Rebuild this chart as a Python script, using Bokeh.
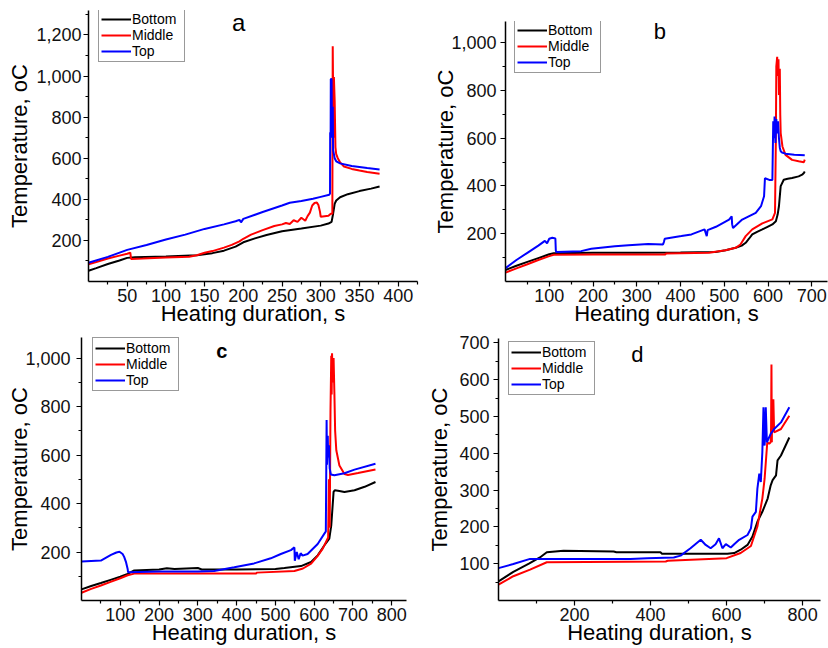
from bokeh.plotting import figure
from bokeh.layouts import column, row
from bokeh.models import Range1d, FixedTicker, NumeralTickFormatter, Legend, LegendItem, Label
from bokeh.embed import file_html
from bokeh.resources import INLINE

FONT = "Liberation Sans"
series_names = ["Bottom", "Middle", "Top"]
series_colors = ["#000000", "#ff0000", "#0000ff"]
x_label = "Heating duration, s"
y_label = "Temperature, oC"

# ---------------- panel a ----------------
a_bottom_x = [0, 10, 25, 40, 50, 60, 100, 140, 160, 175, 190, 200, 215, 230, 250, 275, 300, 310, 314, 316, 318, 320, 325, 335, 350, 365, 376]
a_bottom_y = [52, 65, 85, 102, 115, 118, 122, 128, 138, 150, 170, 191, 210, 226, 245, 258, 272, 282, 290, 330, 378, 394, 410, 425, 440, 452, 462]
a_middle_x = [0, 10, 25, 40, 50, 54, 55, 70, 100, 130, 140, 150, 160, 175, 185, 195, 200, 210, 225, 240, 250, 255, 260, 265, 270, 275, 280, 283, 286, 289, 292, 295, 297, 299, 300, 305, 310, 313, 315, 315.5, 316.5, 317, 318, 319, 320, 322, 325, 330, 340, 350, 360, 376]
a_middle_y = [84, 95, 112, 126, 135, 140, 110, 112, 117, 120, 128, 140, 148, 165, 178, 195, 208, 228, 250, 270, 278, 285, 280, 298, 290, 310, 296, 318, 335, 370, 382, 384, 372, 340, 315, 318, 320, 330, 330, 1145, 700, 995, 880, 653, 620, 600, 580, 560, 548, 540, 533, 525]
a_top_x = [0, 25, 50, 75, 100, 125, 150, 175, 190, 195, 197, 200, 225, 250, 260, 275, 290, 300, 311, 312, 312.2, 312.8, 313, 314, 314.5, 315.5, 316, 318, 320, 325, 340, 360, 376]
a_top_y = [91, 120, 154, 178, 204, 228, 256, 278, 293, 300, 288, 305, 338, 370, 383, 392, 403, 412, 422, 428, 725, 725, 985, 985, 700, 850, 640, 600, 585, 575, 562, 552, 545]

# ---------------- panel b ----------------
b_bottom_x = [0, 25, 50, 75, 100, 110, 200, 300, 400, 480, 503, 526, 540, 549, 557, 564, 575, 587, 600, 610, 618, 622, 625, 629, 636, 645, 655, 670, 678, 682, 684]
b_bottom_y = [48, 66, 82, 98, 114, 118, 120, 120, 121, 123, 131, 141, 150, 162, 180, 197, 208, 218, 230, 239, 252, 280, 315, 399, 426, 430, 433, 440, 447, 454, 460]
b_middle_x = [0, 25, 50, 75, 100, 110, 200, 300, 365, 367, 465, 503, 526, 537, 549, 564, 587, 610, 616, 618, 619, 621, 622, 624, 625, 627, 628, 629, 633, 640, 655, 670, 682, 684]
b_middle_y = [37, 55, 72, 90, 106, 112, 113, 113, 113, 117, 120, 131, 141, 155, 190, 218, 243, 260, 287, 600, 900, 940, 860, 930, 780, 890, 700, 621, 565, 530, 509, 503, 499, 510]
b_top_x = [0, 25, 50, 75, 90, 95, 100, 107, 114, 115, 116, 173, 196, 250, 281, 326, 360, 362, 364, 402, 425, 455, 460, 462, 481, 511, 517, 518, 520, 541, 572, 584, 591, 593, 603, 610, 612, 614, 615, 617, 619, 621, 623, 625, 627, 629, 632, 640, 660, 684]
b_top_y = [56, 90, 120, 150, 170, 160, 179, 183, 180, 130, 123, 127, 137, 148, 152, 157, 155, 165, 179, 190, 197, 218, 190, 215, 229, 259, 273, 240, 224, 259, 287, 315, 357, 432, 425, 425, 670, 600, 690, 580, 680, 620, 670, 600, 560, 545, 540, 535, 530, 528]

# ---------------- panel c ----------------
c_bottom_x = [0, 25, 50, 75, 100, 119, 136, 200, 220, 240, 300, 310, 400, 500, 523, 566, 592, 609, 626, 639, 644, 650, 653, 665, 678, 704, 730, 758]
c_bottom_y = [46, 60, 72, 85, 98, 110, 124, 128, 133, 130, 134, 128, 128, 130, 134, 142, 159, 186, 227, 255, 310, 448, 455, 452, 448, 455, 469, 489]
c_middle_x = [0, 25, 50, 75, 100, 119, 136, 300, 450, 452, 549, 571, 592, 609, 622, 636, 638, 640, 642, 644, 645, 646, 648, 650, 652, 654, 657, 665, 678, 687, 713, 758]
c_middle_y = [32, 48, 62, 77, 92, 104, 111, 111, 111, 115, 122, 132, 152, 184, 214, 260, 500, 300, 780, 1010, 850, 1020, 900, 1000, 860, 700, 620, 557, 522, 518, 526, 540]
c_top_x = [0, 25, 50, 76, 90, 98, 106, 110, 115, 119, 120, 200, 300, 342, 394, 445, 488, 514, 540, 549, 550, 555, 560, 565, 570, 583, 609, 630, 632, 633, 635, 636, 638, 640, 643, 652, 678, 704, 758]
c_top_y = [161, 163, 165, 188, 198, 201, 192, 180, 157, 130, 117, 120, 120, 122, 137, 153, 174, 192, 208, 219, 164, 200, 170, 195, 185, 192, 233, 285, 745, 560, 680, 590, 640, 545, 520, 517, 525, 540, 564]

# ---------------- panel d ----------------
d_bottom_x = [0, 39, 80, 109, 127, 171, 303, 310, 426, 430, 602, 620, 637, 655, 668, 681, 694, 708, 716, 721, 730, 734, 743, 765]
d_bottom_y = [52, 78, 100, 117, 131, 135, 133, 131, 131, 127, 127, 129, 138, 151, 174, 214, 241, 277, 313, 327, 340, 381, 394, 443]
d_middle_x = [0, 39, 83, 127, 440, 445, 600, 637, 664, 681, 694, 700, 707, 712, 716, 717, 718, 719, 720, 721, 723, 725, 743, 765]
d_middle_y = [43, 66, 84, 104, 106, 108, 115, 129, 148, 201, 277, 331, 430, 426, 430, 470, 641, 430, 540, 466, 547, 457, 466, 502]
d_top_x = [0, 39, 83, 347, 391, 461, 479, 505, 532, 545, 558, 571, 580, 589, 598, 611, 620, 633, 655, 664, 668, 677, 681, 686, 690, 694, 697, 699, 700, 703, 706, 716, 725, 743, 765]
d_top_y = [88, 99, 113, 113, 115, 117, 122, 142, 165, 151, 142, 153, 169, 142, 153, 144, 153, 165, 178, 196, 228, 241, 304, 345, 322, 403, 525, 430, 421, 525, 430, 453, 466, 484, 525]

# ticks
a_xticks = [50, 100, 150, 200, 250, 300, 350, 400]
a_xminor = [25, 75, 125, 175, 225, 275, 325, 375, 425]
a_yticks = [200, 400, 600, 800, 1000, 1200]
a_yminor = [100, 300, 500, 700, 900, 1100, 1300]
b_xticks = [100, 200, 300, 400, 500, 600, 700]
b_xminor = [50, 150, 250, 350, 450, 550, 650]
b_yticks = [200, 400, 600, 800, 1000]
b_yminor = [100, 300, 500, 700, 900]
c_xticks = [100, 200, 300, 400, 500, 600, 700, 800]
c_xminor = [50, 150, 250, 350, 450, 550, 650, 750]
c_yticks = [200, 400, 600, 800, 1000]
c_yminor = [100, 300, 500, 700, 900]
d_xticks = [200, 400, 600, 800]
d_xminor = [100, 300, 500, 700]
d_yticks = [100, 200, 300, 400, 500, 600, 700]
d_yminor = [50, 150, 250, 350, 450, 550, 650]

LEG_PAD = 2
LEG_ROW = 20
LEG_SPACING = -6
LEG_H = 2 * LEG_PAD + 3 * LEG_ROW + 2 * LEG_SPACING


def make_panel(width, height, bl, br, bt, bb, xr, yr, xt, xm, yt, ym, series,
               letter, letter_xy, letter_size, letter_style,
               leg_left, leg_top, ylab_so, yax_so):
    p = figure(width=width, height=height, output_backend="svg", toolbar_location=None,
               min_border_left=bl, min_border_right=br, min_border_top=bt, min_border_bottom=bb,
               x_range=Range1d(*xr), y_range=Range1d(*yr))
    try:
        p.frame_align = False
    except Exception:
        pass
    p.outline_line_color = None
    p.xgrid.visible = False
    p.ygrid.visible = False
    p.background_fill_color = "white"
    p.border_fill_color = "white"
    renderers = []
    for (xs, ys), c in zip(series, series_colors):
        r = p.line(xs, ys, line_color=c, line_width=2)
        renderers.append(r)
    for ax in (p.xaxis[0], p.yaxis[0]):
        ax.axis_line_color = "black"
        ax.axis_line_width = 1.5
        ax.major_tick_line_color = "black"
        ax.minor_tick_line_color = "black"
        ax.major_tick_line_width = 1.2
        ax.minor_tick_line_width = 1.2
        ax.major_tick_in = 0
        ax.major_tick_out = 5
        ax.minor_tick_in = 0
        ax.minor_tick_out = 3
        ax.major_label_text_font = FONT
        ax.major_label_text_font_size = "18px"
        ax.major_label_text_color = "#111111"
        ax.axis_label_text_font = FONT
        ax.axis_label_text_font_size = "22px"
        ax.axis_label_text_font_style = "normal"
        ax.axis_label_text_color = "black"
    p.xaxis.ticker = FixedTicker(ticks=xt, minor_ticks=xm)
    p.yaxis.ticker = FixedTicker(ticks=yt, minor_ticks=ym)
    p.yaxis.formatter = NumeralTickFormatter(format="0,0")
    p.xaxis.axis_label = x_label
    p.yaxis.axis_label = y_label
    p.xaxis.major_label_standoff = 2
    p.xaxis.axis_label_standoff = -4
    p.yaxis.major_label_standoff = ylab_so
    p.yaxis.axis_label_standoff = yax_so

    frame_h = height - bt - bb
    legend = Legend(items=[LegendItem(label=n, renderers=[r]) for n, r in zip(series_names, renderers)],
                    location=(leg_left, frame_h - leg_top - LEG_H))
    legend.label_text_font = FONT
    legend.label_text_font_size = "14px"
    legend.label_text_color = "black"
    legend.glyph_width = 30
    legend.glyph_height = 14
    legend.label_height = 14
    legend.label_width = 50
    legend.label_standoff = 1
    legend.spacing = LEG_SPACING
    legend.padding = LEG_PAD
    legend.margin = 0
    legend.border_line_color = "#333333"
    legend.border_line_width = 1.5
    legend.background_fill_color = "white"
    legend.background_fill_alpha = 1
    p.add_layout(legend)

    p.add_layout(Label(x=letter_xy[0], y=letter_xy[1], text=letter, text_font=FONT,
                       text_font_size=letter_size, text_font_style=letter_style,
                       text_align="center", text_baseline="alphabetic", text_color="black"))
    return p


# panel a: frame x 88..417, y 10..281
pa = make_panel(420, 329, 88, 3, 10, 48, (0, 425), (0, 1319), a_xticks, a_xminor, a_yticks, a_yminor,
                [(a_bottom_x, a_bottom_y), (a_middle_x, a_middle_y), (a_top_x, a_top_y)],
                "a", (194, 1262), "24px", "normal", 10, 0, 2, 1)
# panel b: frame x 505..827, y 21..281
pb = make_panel(408, 329, 85, 1, 21, 48, (0, 736), (0, 1088), b_xticks, b_xminor, b_yticks, b_yminor,
                [(b_bottom_x, b_bottom_y), (b_middle_x, b_middle_y), (b_top_x, b_top_y)],
                "b", (353, 1045), "22px", "normal", 9, 0, 4, -10)
# panel c: frame x 81..406, y 337..600
pc = make_panel(420, 319, 81, 14, 8, 48, (0, 838), (0, 1085), c_xticks, c_xminor, c_yticks, c_yminor,
                [(c_bottom_x, c_bottom_y), (c_middle_x, c_middle_y), (c_top_x, c_top_y)],
                "c", (362, 1031), "20px", "bold", 11, 2, 6, -10)
# panel d: frame x 498..820, y 338..600
pd_ = make_panel(408, 319, 78, 8, 9, 48, (0, 847), (0, 712), d_xticks, d_xminor, d_yticks, d_yminor,
                 [(d_bottom_x, d_bottom_y), (d_middle_x, d_middle_y), (d_top_x, d_top_y)],
                 "d", (365, 669), "22px", "normal", 10, 5, 4, 4)

layout = column(row(pa, pb), row(pc, pd_))
open("out.html", "w").write(file_html(layout, INLINE))
